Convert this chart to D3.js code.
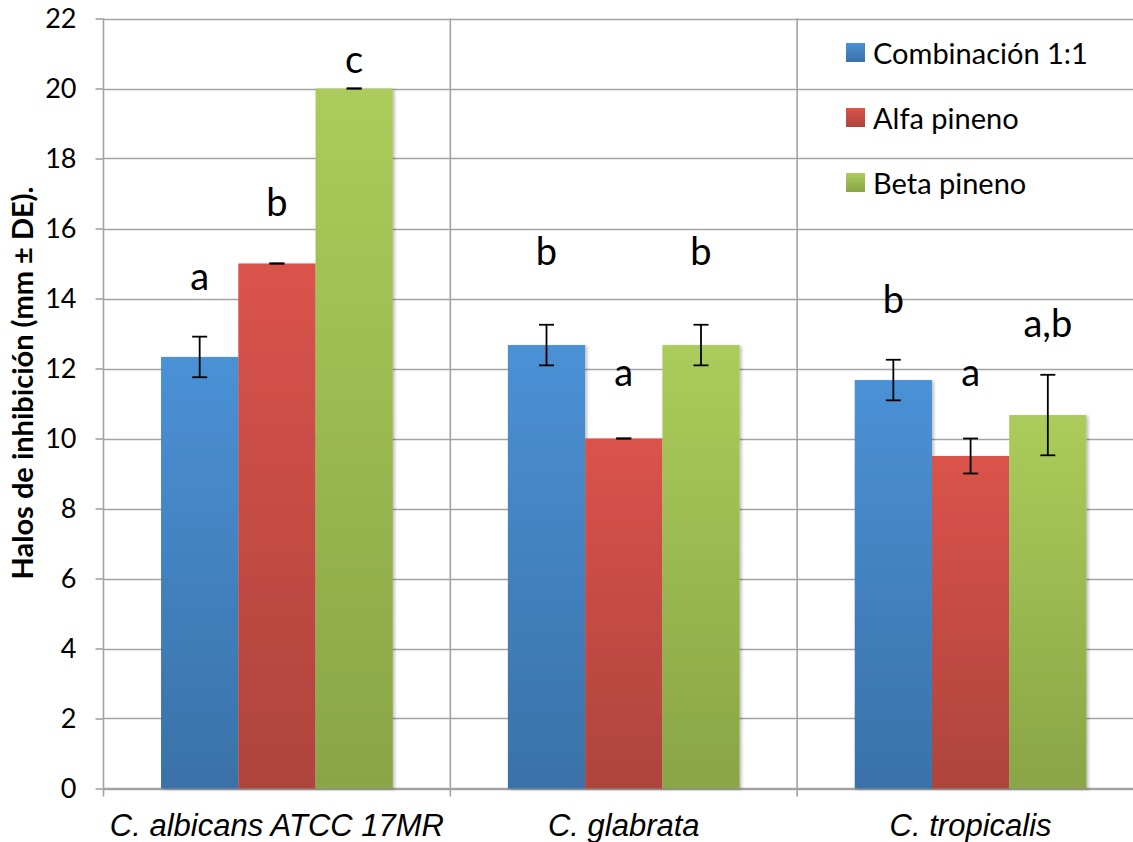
<!DOCTYPE html>
<html>
<head>
<meta charset="utf-8">
<script src="https://cdn.jsdelivr.net/npm/d3@7"></script>
<style>
  html, body { margin: 0; padding: 0; background: #fff; }
  svg { display: block; }
</style>
</head>
<body>
<svg id="chart" width="1133" height="842"></svg>
<script>
const categories = ["C. albicans ATCC 17MR", "C. glabrata", "C. tropicalis"];
const seriesNames = ["Combinación 1:1", "Alfa pineno", "Beta pineno"];
const combinacion = [12.33, 12.67, 11.67];
const alfa = [15.0, 10.0, 9.5];
const beta = [20.0, 12.67, 10.67];
const errCombinacion = [0.58, 0.58, 0.58];
const errAlfa = [0.0, 0.0, 0.5];
const errBeta = [0.0, 0.58, 1.15];
const letterCombinacion = ["a", "b", "b"];
const letterAlfa = ["b", "a", "a"];
const letterBeta = ["c", "b", "a,b"];
const letterPosCombinacion = [14.25, 14.95, 13.6];
const letterPosAlfa = [16.35, 11.5, 11.5];
const letterPosBeta = [20.45, 14.95, 12.9];
const yTicks = [0, 2, 4, 6, 8, 10, 12, 14, 16, 18, 20, 22];

const values = [combinacion, alfa, beta];
const errs = [errCombinacion, errAlfa, errBeta];
const letters = [letterCombinacion, letterAlfa, letterBeta];
const letterPos = [letterPosCombinacion, letterPosAlfa, letterPosBeta];
const colors = [
  {top: "#4b91d6", bot: "#3a71a8"},
  {top: "#da534b", bot: "#ae443c"},
  {top: "#abcc5b", bot: "#89a546"}
];

const svg = d3.select("#chart");
const mLeft = 103.5, mRight = 1144, mTop = 18.5, mBottom = 788.5;
const FONT = "Lato, 'Open Sans', sans-serif";

const x0 = d3.scaleBand().domain(categories).range([mLeft, mRight]).paddingInner(0).paddingOuter(0);
const x1 = d3.scaleBand().domain(d3.range(3)).range([0, x0.bandwidth()]).paddingInner(0).paddingOuter(0.745);
const y = d3.scaleLinear().domain([0, 22]).range([mBottom, mTop]);

const defs = svg.append("defs");
colors.forEach((c, i) => {
  const g = defs.append("linearGradient").attr("id", "grad" + i)
    .attr("x1", 0).attr("y1", 0).attr("x2", 0).attr("y2", 1);
  g.append("stop").attr("offset", "0%").attr("stop-color", c.top);
  g.append("stop").attr("offset", "100%").attr("stop-color", c.bot);
});
const f = defs.append("filter").attr("id", "shadow").attr("x", "-10%").attr("y", "-10%").attr("width", "130%").attr("height", "130%");
f.append("feDropShadow").attr("dx", 2).attr("dy", 1).attr("stdDeviation", 1.5).attr("flood-color", "#000").attr("flood-opacity", 0.25);

const gridColor = "#a3a3a3";

// horizontal gridlines
svg.append("g").selectAll("line").data(yTicks).join("line")
  .attr("x1", mLeft).attr("x2", 1133)
  .attr("y1", d => Math.round(y(d)) + 0.5).attr("y2", d => Math.round(y(d)) + 0.5)
  .attr("stroke", gridColor).attr("stroke-width", 1.6);

// vertical category separators
const seps = categories.slice(1).map(c => x0(c));
svg.append("g").selectAll("line").data(seps).join("line")
  .attr("x1", d => d).attr("x2", d => d)
  .attr("y1", mTop).attr("y2", mBottom + 8)
  .attr("stroke", gridColor).attr("stroke-width", 1.6);

// y axis
const yAxis = d3.axisLeft(y).tickValues(yTicks).tickSize(8).tickPadding(19).tickFormat(d3.format("d"));
const ya = svg.append("g").attr("transform", `translate(${mLeft},0)`).call(yAxis);
ya.select(".domain").attr("stroke", gridColor).attr("stroke-width", 1.6).attr("d", `M0,${mTop}V${mBottom + 8}`);
ya.selectAll(".tick line").attr("stroke", gridColor).attr("stroke-width", 1.6);
ya.selectAll(".tick text").attr("font-family", FONT).attr("font-size", 27).attr("fill", "#000");

// x axis
const xAxis = d3.axisBottom(x0).tickSize(0).tickPadding(25);
const xa = svg.append("g").attr("transform", `translate(0,${mBottom})`).call(xAxis);
xa.select(".domain").attr("stroke", gridColor).attr("stroke-width", 1.6).attr("d", `M${mLeft},0H1133`);
xa.selectAll(".tick text").attr("font-family", "'Liberation Sans', Arial, sans-serif")
  .attr("font-style", "italic").attr("font-size", 31).attr("fill", "#000");

// bars
const groups = svg.append("g").selectAll("g").data(categories).join("g")
  .attr("transform", d => `translate(${x0(d)},0)`);
groups.each(function(cat, ci) {
  const g = d3.select(this);
  for (let s = 0; s < 3; s++) {
    const v = values[s][ci];
    g.append("rect")
      .attr("x", x1(s)).attr("width", x1.bandwidth())
      .attr("y", y(v)).attr("height", y(0) - y(v))
      .attr("fill", `url(#grad${s})`)
      .attr("filter", "url(#shadow)");
  }
});
groups.each(function(cat, ci) {
  const g = d3.select(this);
  for (let s = 0; s < 3; s++) {
    const v = values[s][ci], e = errs[s][ci];
    const cx = x1(s) + x1.bandwidth() / 2;
    const eb = g.append("g").attr("stroke", "#000").attr("stroke-width", 1.8);
    eb.append("line").attr("x1", cx).attr("x2", cx).attr("y1", y(v + e)).attr("y2", y(v - e));
    eb.append("line").attr("x1", cx - 7.5).attr("x2", cx + 7.5).attr("y1", y(v + e)).attr("y2", y(v + e));
    eb.append("line").attr("x1", cx - 7.5).attr("x2", cx + 7.5).attr("y1", y(v - e)).attr("y2", y(v - e));
    g.append("text")
      .attr("x", cx).attr("y", y(letterPos[s][ci]))
      .attr("text-anchor", "middle")
      .attr("font-family", FONT).attr("font-size", 38).attr("fill", "#000")
      .text(letters[s][ci]);
  }
});

// y title
svg.append("text")
  .attr("transform", `translate(33,${383}) rotate(-90)`)
  .attr("text-anchor", "middle")
  .attr("font-family", FONT).attr("font-weight", "bold").attr("font-size", 29).attr("fill", "#000")
  .text("Halos de inhibición (mm ± DE).");

// legend
const legend = svg.append("g").attr("transform", "translate(846,0)");
seriesNames.forEach((name, i) => {
  const cy = 53 + i * 65;
  legend.append("rect").attr("x", 0).attr("y", cy - 10).attr("width", 19).attr("height", 19)
    .attr("fill", `url(#grad${i})`);
  legend.append("text").attr("x", 27).attr("y", cy + 11)
    .attr("font-family", FONT).attr("font-size", 29).attr("fill", "#000")
    .text(name);
});
</script>
</body>
</html>
